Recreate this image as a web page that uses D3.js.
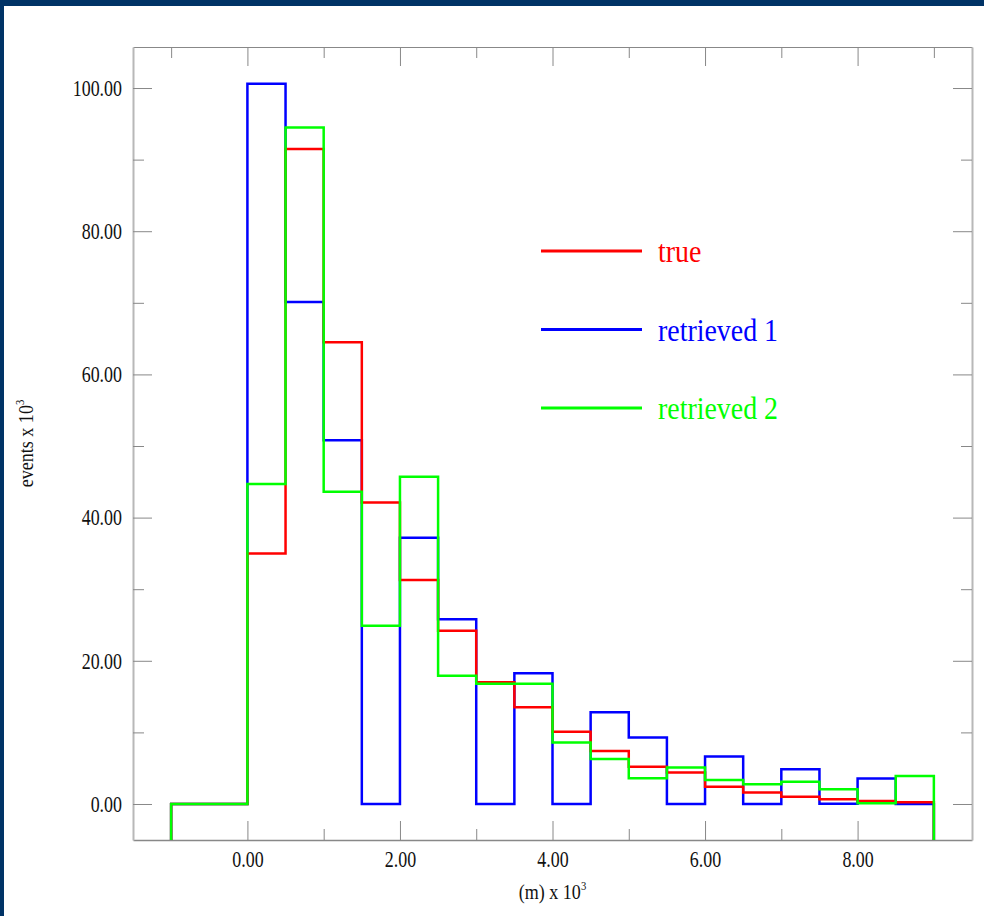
<!DOCTYPE html>
<html>
<head>
<meta charset="utf-8">
<script src="https://cdn.jsdelivr.net/npm/d3@7"></script>
<style>
  body { margin: 0; background: #fff; }
  svg { display: block; }
  text { font-family: "Liberation Serif", "DejaVu Serif", serif; }
</style>
</head>
<body>
<div id="chart"></div>
<script>
// Histogram bins (lower edge, width 0.5) in units of 10^3
const binStart = [-1.0, -0.5, 0.0, 0.5, 1.0, 1.5, 2.0, 2.5, 3.0, 3.5, 4.0, 4.5, 5.0, 5.5, 6.0, 6.5, 7.0, 7.5, 8.0, 8.5];
const binWidth = 0.5;

// events x 10^3 per bin
const trueVals   = [0, 0, 35.0, 91.5, 64.5, 42.1, 31.3, 24.2, 17.0, 13.5, 10.1, 7.4, 5.2, 4.4, 2.4, 1.6, 1.0, 0.65, 0.4, 0.25];
const retrieved1 = [0, 0, 100.6, 70.1, 50.8, 0, 37.2, 25.8, 0, 18.25, 0, 12.8, 9.3, 0, 6.65, 0, 4.85, 0.05, 3.55, 0];
const retrieved2 = [0, 0, 44.7, 94.5, 43.6, 24.9, 45.7, 17.9, 16.8, 16.8, 8.6, 6.3, 3.6, 5.1, 3.35, 2.75, 3.1, 2.05, 0.1, 3.9];

const seriesNames = ["true", "retrieved 1", "retrieved 2"];
const seriesColors = ["#ff0000", "#0000ff", "#00ff00"];

// tick values
const xMajor = [0, 2, 4, 6, 8];
const xMinor = [-1, 1, 3, 5, 7, 9];
const yMajor = [0, 20, 40, 60, 80, 100];
const yMinor = [10, 30, 50, 70, 90];

const W = 984, H = 916;
const margin = {top: 47, right: 12, bottom: 76, left: 133};
const width = W - margin.left - margin.right;
const height = H - margin.top - margin.bottom;

const svg = d3.select("#chart").append("svg")
    .attr("width", W)
    .attr("height", H);

// navy page frame
svg.append("rect").attr("x", 0).attr("y", 0).attr("width", W).attr("height", 6).attr("fill", "#003366");
svg.append("rect").attr("x", 0).attr("y", 0).attr("width", 4).attr("height", H).attr("fill", "#003366");

const g = svg.append("g")
    .attr("transform", `translate(${margin.left}, ${margin.top})`);

const x = d3.scaleLinear().domain([-1.5, 9.5]).range([0, width]);
const y = d3.scaleLinear().domain([-5.03, 105.73]).range([height, 0]);

const fmt = d3.format(".2f");
const tickColor = "#888";
const labelScale = 0.78;

function styleAxis(sel, domainColor, domainWidth) {
    sel.selectAll(".tick line").attr("stroke", tickColor);
    sel.select(".domain").attr("stroke", domainColor).attr("stroke-width", domainWidth);
}

// bottom axis
const xAxis = g.append("g")
    .attr("transform", `translate(0, ${height})`)
    .call(d3.axisBottom(x).tickValues(xMajor).tickFormat(fmt).tickSize(-19).tickSizeOuter(0).tickPadding(11));
styleAxis(xAxis, "#888", 1.5);
xAxis.selectAll("text")
    .attr("fill", "#111")
    .style("font-size", "23px")
    .attr("transform", `scale(${labelScale},1)`);
g.append("g")
    .attr("transform", `translate(0, ${height})`)
    .call(d3.axisBottom(x).tickValues(xMinor).tickFormat("").tickSize(-11).tickSizeOuter(0))
    .call(s => { s.select(".domain").remove(); s.selectAll(".tick line").attr("stroke", tickColor); });

// top axis
const xTop = g.append("g")
    .call(d3.axisTop(x).tickValues(xMajor).tickFormat("").tickSize(-19).tickSizeOuter(0));
styleAxis(xTop, "#888", 1.2);
g.append("g")
    .call(d3.axisTop(x).tickValues(xMinor).tickFormat("").tickSize(-11).tickSizeOuter(0))
    .call(s => { s.select(".domain").remove(); s.selectAll(".tick line").attr("stroke", tickColor); });

// left axis
const yAxis = g.append("g")
    .call(d3.axisLeft(y).tickValues(yMajor).tickFormat(fmt).tickSize(-19).tickSizeOuter(0).tickPadding(11));
styleAxis(yAxis, "#b8b8b8", 2);
yAxis.selectAll("text")
    .attr("fill", "#111")
    .style("font-size", "23px")
    .attr("x", -11 / labelScale)
    .attr("transform", `scale(${labelScale},1)`);
g.append("g")
    .call(d3.axisLeft(y).tickValues(yMinor).tickFormat("").tickSize(-11).tickSizeOuter(0))
    .call(s => { s.select(".domain").remove(); s.selectAll(".tick line").attr("stroke", tickColor); });

// right axis
const yRight = g.append("g")
    .attr("transform", `translate(${width}, 0)`)
    .call(d3.axisRight(y).tickValues(yMajor).tickFormat("").tickSize(-19).tickSizeOuter(0));
styleAxis(yRight, "#b8b8b8", 2);
g.append("g")
    .attr("transform", `translate(${width}, 0)`)
    .call(d3.axisRight(y).tickValues(yMinor).tickFormat("").tickSize(-11).tickSizeOuter(0))
    .call(s => { s.select(".domain").remove(); s.selectAll(".tick line").attr("stroke", tickColor); });

// axis titles
const xTitle = svg.append("g").attr("transform", `translate(${margin.left + width / 2}, 899)`)
    .append("text")
    .attr("text-anchor", "middle")
    .attr("transform", "scale(0.82,1)")
    .style("font-size", "22px")
    .attr("fill", "#111");
xTitle.append("tspan").text("(m) x 10");
xTitle.append("tspan").attr("dy", -9).style("font-size", "13px").text("3");

const yTitle = svg.append("g").attr("transform", `translate(33, ${margin.top + height / 2}) rotate(-90)`)
    .append("text")
    .attr("text-anchor", "middle")
    .attr("transform", "scale(0.82,1)")
    .style("font-size", "22px")
    .attr("fill", "#111");
yTitle.append("tspan").text("events x 10");
yTitle.append("tspan").attr("dy", -9).style("font-size", "13px").text("3");

// histogram step lines
const allSeries = [trueVals, retrieved1, retrieved2];
const line = d3.line()
    .x(d => x(d[0]))
    .y(d => y(d[1]));

function stepPoints(vals) {
    const pts = [[binStart[0], y.domain()[0]]];
    vals.forEach((v, i) => {
        pts.push([binStart[i], v]);
        pts.push([binStart[i] + binWidth, v]);
    });
    pts.push([binStart[binStart.length - 1] + binWidth, y.domain()[0]]);
    return pts;
}

// draw order: blue, red, green
[1, 0, 2].forEach(i => {
    g.append("path")
        .datum(stepPoints(allSeries[i]))
        .attr("fill", "none")
        .attr("stroke", seriesColors[i])
        .attr("stroke-width", 2.5)
        .attr("d", line);
});

// legend
const legend = svg.append("g");
seriesNames.forEach((name, i) => {
    const ly = 251 + i * 78.5;
    legend.append("line")
        .attr("x1", 541).attr("x2", 642)
        .attr("y1", ly).attr("y2", ly)
        .attr("stroke", seriesColors[i])
        .attr("stroke-width", 3);
    legend.append("g")
        .attr("transform", `translate(658, ${ly + 11})`)
        .append("text")
        .attr("transform", "scale(0.9,1)")
        .style("font-size", "31px")
        .attr("fill", seriesColors[i])
        .text(name);
});
</script>
</body>
</html>
